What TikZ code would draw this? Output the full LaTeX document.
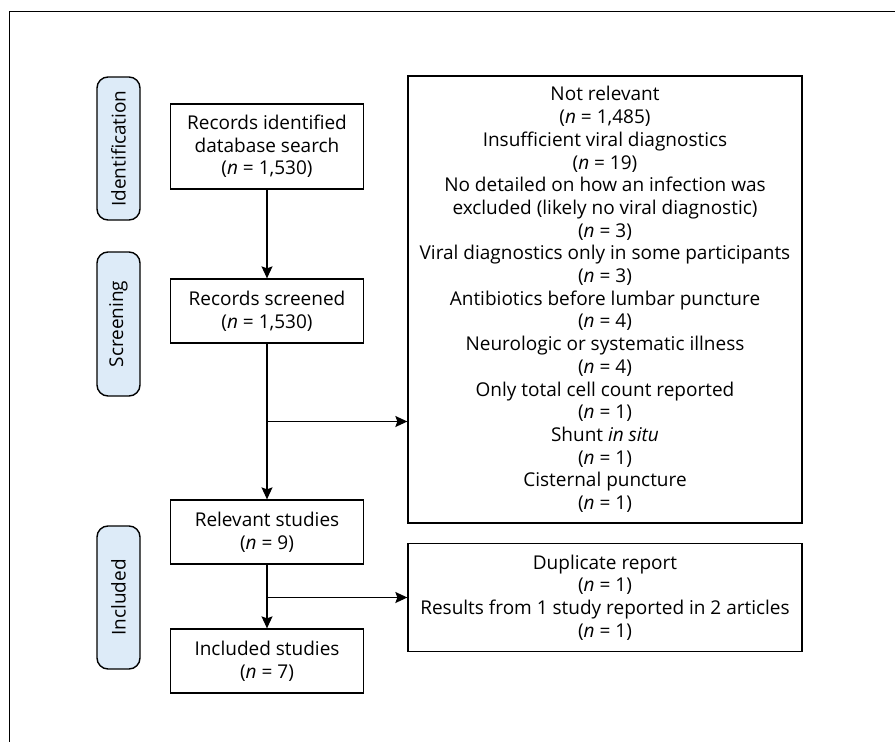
\documentclass[tikz,border=0pt]{standalone}
\usepackage{fontspec}
\setmainfont{Open Sans}
\usetikzlibrary{arrows.meta}
\begin{document}
\begin{tikzpicture}[x=1pt,y=-1pt,
  every node/.style={font=\fontsize{19}{22.7}\selectfont, align=center, inner sep=0pt},
  mainbox/.style={draw, line width=1.3pt, minimum width=193pt},
  sidebox/.style={draw, line width=1.3pt, minimum width=394pt},
  pill/.style={draw, line width=1.4pt, fill=pillblue, rounded corners=11pt, minimum width=43pt, rotate=90},
  arr/.style={line width=1.3pt, -{Stealth[length=12pt,width=11pt,inset=2pt]}},
  ln/.style={line width=1.3pt}]
\definecolor{pillblue}{HTML}{DDEBF8}
\useasboundingbox (0,0) rectangle (895,742);
\draw[line width=1pt] (9,742) -- (9,11) -- (895,11);

% pills (rotated)
\node[pill, minimum width=143pt, minimum height=43pt] (pid) at (118.5,148.5) {Identification};
\node[pill, minimum width=144pt, minimum height=43pt] (psc) at (118.5,324) {Screening};
\node[pill, minimum width=143pt, minimum height=43pt] (pin) at (118.5,597.5) {Included};

% main boxes
\node[mainbox, minimum height=85pt] (b1) at (267,146.5) {Records identified\\database search\\(\textit{n} = 1,530)};
\node[mainbox, minimum height=64pt] (b2) at (267,311) {Records screened\\(\textit{n} = 1,530)};
\node[mainbox, minimum height=64pt] (b3) at (267,532) {Relevant studies\\(\textit{n} = 9)};
\node[mainbox, minimum height=64pt] (b4) at (267,661) {Included studies\\(\textit{n} = 7)};

% side boxes
\node[sidebox, minimum height=447pt] (s1) at (605,299.5) {Not relevant\\(\textit{n} = 1,485)\\Insufficient viral diagnostics\\(\textit{n} = 19)\\No detailed on how an infection was\\excluded (likely no viral diagnostic)\\(\textit{n} = 3)\\Viral diagnostics only in some participants\\(\textit{n} = 3)\\Antibiotics before lumbar puncture\\(\textit{n} = 4)\\Neurologic or systematic illness\\(\textit{n} = 4)\\Only total cell count reported\\(\textit{n} = 1)\\Shunt \textit{in situ}\\(\textit{n} = 1)\\Cisternal puncture\\(\textit{n} = 1)};
\node[sidebox, minimum height=108pt] (s2) at (605,597.5) {Duplicate report\\(\textit{n} = 1)\\Results from 1 study reported in 2 articles\\(\textit{n} = 1)};

% connectors
\draw[arr] (b1) -- (b2);
\draw[arr] (b2) -- (b3);
\coordinate (j1) at (267,421.5);
\draw[arr] (j1) -- (j1 -| s1.west);
\draw[arr] (b3) -- (b4);
\coordinate (j2) at (267,597.5);
\draw[arr] (j2) -- (j2 -| s2.west);
\end{tikzpicture}
\end{document}
